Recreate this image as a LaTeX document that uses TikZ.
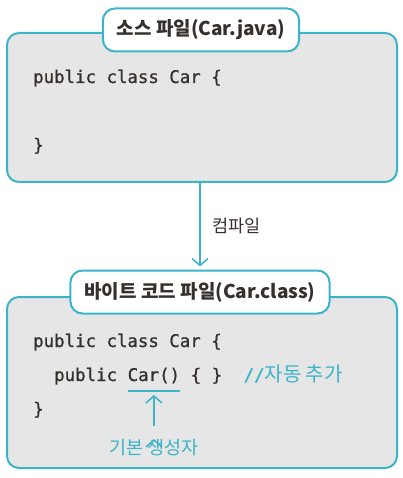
\documentclass[tikz,border=0pt]{standalone}
\usepackage{fontspec}
\setmainfont{Noto Sans CJK KR}
\newfontfamily\codefont[FakeBold=1]{DejaVu Sans Mono}
\newfontfamily\hangul{Noto Sans CJK KR}
\usetikzlibrary{arrows.meta}
\definecolor{tealline}{HTML}{3BB4C9}
\definecolor{boxgray}{HTML}{E6E6E6}
\definecolor{ink}{HTML}{35302D}

\begin{document}
\begin{tikzpicture}[x=1pt,y=-1pt,
		filebox/.style={draw=tealline,line width=2pt,fill=boxgray,rounded corners=12pt,inner sep=0pt},
		filetitle/.style={draw=tealline,line width=2pt,fill=white,rounded corners=12pt,text=ink,
			font=\bfseries\fontsize{19}{19}\selectfont,inner xsep=14pt,minimum height=43pt},
		code/.style={anchor=base west,inner sep=0pt,text=ink,font=\codefont\fontsize{17.4}{17.4}\selectfont},
		note/.style={text=tealline,font=\fontsize{18.5}{18.5}\selectfont},
		barb/.style={-{Straight Barb[length=7pt,width=16pt]},draw=tealline,line width=1.5pt}]
	\useasboundingbox (0,0) rectangle (402,478);
	% source file
	\node (src) [filebox,minimum width=390pt,minimum height=149pt] at (202,107.5) {};
	\node (srctitle) [filetitle] at (201,30) {소스 파일(Car.java)};
	\node (s1) [code] at (33,83) {public class Car \{};
	\node (s2) [code] at (33,151) {\}};
	% byte code file
	\node (byte) [filebox,minimum width=390pt,minimum height=171pt] at (202,382.5) {};
	\node (bytetitle) [filetitle] at (200,292) {바이트 코드 파일(Car.class)};
	\node (b1) [code] at (33,347) {public class Car \{};
	\node (b2) [code] at (54,381) {public};
	\node (ctor) [code] at (127.5,381) {Car()};
	\node (body) [code] at (190.5,381) {\{ \}};
	\node (auto) [code,text=tealline] at (243.5,381) {//{\hangul\fontsize{20}{20}\selectfont 자동 추가}};
	\node (b3) [code] at (33,415) {\}};
	\node (dflt) [note,anchor=north,inner sep=0pt] at (154,439) {기본 생성자};
	\coordinate (ulw) at ([yshift=-10pt]ctor.base west);
	\coordinate (ule) at ([yshift=-10pt]ctor.base east);
	\coordinate (ulc) at ([yshift=-14pt]ctor.base);
	\path[barb]
		(src.south -| bytetitle.north) edge [shorten >=3pt]
			node [right=8pt,text=ink,font=\fontsize{17.5}{17.5}\selectfont] {컴파일} (bytetitle.north)
		(dflt.north -| ulc) edge [shorten <=13pt] (ulc);
	\draw[tealline,line width=1.5pt] (ulw) -- (ule);
\end{tikzpicture}
\end{document}
